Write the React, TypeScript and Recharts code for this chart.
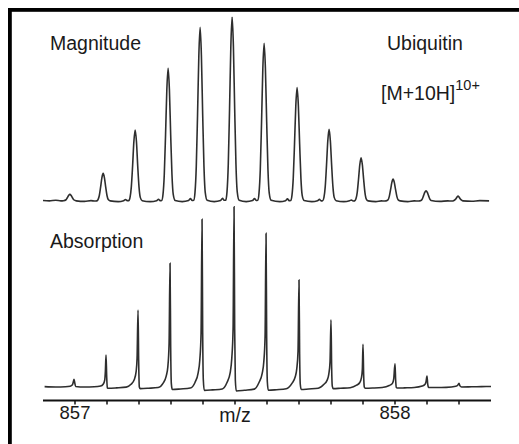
import React from 'react';
import { LineChart, Line, XAxis, YAxis } from 'recharts';

// m/z, relative intensity (tallest isotope = 100)
const magnitudeTrace: [number, number][] = [
  [856.9, 0.3], [856.92, 0.1], [856.94, 0.4], [856.956, 0.1],
  [856.964, 0.2], [856.972, 0.7], [856.976, 1.8], [856.98, 3.0], [856.984, 3.6], [856.988, 3.0], [856.992, 1.8], [856.996, 0.7], [857.004, 0.1],
  [857.03, -0.2], [857.05, 0.2], [857.062, 0.0],
  [857.068, 0.1], [857.072, 0.8], [857.076, 3], [857.08, 7.5], [857.084, 12.6], [857.088, 15], [857.092, 12.6], [857.096, 7.5], [857.1, 3], [857.104, 0.8], [857.11, 0.1],
  [857.135, -0.3], [857.152, 0.2], [857.158, 0.8], [857.163, 0.2],
  [857.168, 0.2], [857.172, 2], [857.176, 7.7], [857.18, 19], [857.184, 32.3], [857.188, 38.5], [857.192, 32.3], [857.196, 19], [857.2, 7.7], [857.204, 2], [857.21, 0.2],
  [857.235, -0.3], [857.255, 0.2], [857.261, 1.0], [857.266, 0.2],
  [857.271, 0.3], [857.275, 3.6], [857.279, 14.4], [857.283, 36], [857.287, 60.5], [857.291, 72], [857.295, 60.5], [857.299, 36], [857.303, 14.4], [857.307, 3.6], [857.313, 0.3],
  [857.335, -0.3], [857.355, 0.3], [857.361, 1.3], [857.366, 0.3],
  [857.371, 0.4], [857.375, 4.7], [857.379, 18.8], [857.383, 47], [857.387, 79], [857.391, 94.2], [857.395, 79], [857.399, 47], [857.403, 18.8], [857.407, 4.7], [857.413, 0.4],
  [857.435, -0.3], [857.455, 0.3], [857.461, 1.5], [857.466, 0.4],
  [857.471, 0.4], [857.475, 5], [857.479, 20], [857.483, 50], [857.487, 84], [857.491, 100], [857.495, 84], [857.499, 50], [857.503, 20], [857.507, 5], [857.513, 0.4],
  [857.535, -0.3], [857.555, 0.3], [857.561, 1.4], [857.566, 0.3],
  [857.571, 0.4], [857.575, 4.3], [857.579, 17], [857.583, 43], [857.587, 72], [857.591, 85.6], [857.595, 72], [857.599, 43], [857.603, 17], [857.607, 4.3], [857.613, 0.4],
  [857.64, -0.3], [857.658, 0.2], [857.664, 1.2], [857.669, 0.2],
  [857.674, 0.3], [857.678, 3.1], [857.682, 12.3], [857.686, 31], [857.69, 51.7], [857.694, 61.5], [857.698, 51.7], [857.702, 31], [857.706, 12.3], [857.71, 3.1], [857.716, 0.3],
  [857.74, -0.3], [857.758, 0.2], [857.764, 0.9], [857.769, 0.1],
  [857.774, 0.2], [857.778, 2], [857.782, 7.8], [857.786, 19.5], [857.79, 32.7], [857.794, 38.9], [857.798, 32.7], [857.802, 19.5], [857.806, 7.8], [857.81, 2], [857.816, 0.2],
  [857.84, -0.3], [857.858, 0.2], [857.864, 0.6], [857.869, 0.0],
  [857.874, 0.1], [857.878, 1.2], [857.882, 4.7], [857.886, 11.8], [857.89, 19.7], [857.894, 23.5], [857.898, 19.7], [857.902, 11.8], [857.906, 4.7], [857.91, 1.2], [857.916, 0.1],
  [857.94, -0.3], [857.958, 0.1], [857.966, 0.0],
  [857.972, 0.1], [857.978, 0.6], [857.982, 2.4], [857.986, 6], [857.99, 10], [857.994, 11.9], [857.998, 10], [858.002, 6], [858.006, 2.4], [858.01, 0.6], [858.016, 0.1],
  [858.04, -0.3], [858.06, 0.1], [858.074, 0.0],
  [858.081, 0.3], [858.085, 1.1], [858.089, 2.8], [858.093, 4.7], [858.097, 5.6], [858.101, 4.7], [858.105, 2.8], [858.109, 1.1], [858.113, 0.3],
  [858.14, -0.2], [858.165, 0.1], [858.178, 0.0],
  [858.183, 0.2], [858.187, 0.6], [858.191, 1.4], [858.194, 2.2], [858.197, 2.7], [858.2, 2.2], [858.203, 1.4], [858.207, 0.6], [858.212, 0.1],
  [858.24, -0.1], [858.265, 0.2], [858.294, 0.1],
];

const absorptionTrace: [number, number][] = [
  [856.905, 0.2], [856.94, 0.0], [856.97, 0.1], [856.985, 0.4],
  [856.992, 1.2], [856.995, 3], [856.997, 4.3], [856.999, 2.5], [857.002, 0.3],
  [857.03, 0], [857.06, 0.1], [857.08, 0.5],
  [857.088, 1.5], [857.093, 4], [857.095, 9], [857.097, 17.7], [857.099, 6], [857.101, -0.5], [857.104, -0.7],
  [857.13, -0.5], [857.16, -0.1], [857.175, 1.5],
  [857.185, 4], [857.191, 8.5], [857.194, 16], [857.197, 42.7], [857.199, 14], [857.201, 0], [857.204, -0.9],
  [857.23, -0.7], [857.26, -0.3], [857.275, 2],
  [857.285, 6], [857.29, 11], [857.294, 24], [857.297, 68.6], [857.299, 22], [857.301, 2], [857.304, -1.4],
  [857.33, -1.1], [857.36, -0.6], [857.375, 2.5],
  [857.385, 8], [857.39, 15], [857.394, 30], [857.397, 93], [857.399, 30], [857.401, 4], [857.404, -1.9],
  [857.43, -1.6], [857.46, -1.1], [857.475, 2.5],
  [857.485, 8], [857.49, 16], [857.494, 32], [857.497, 100], [857.499, 32], [857.501, 4], [857.504, -2.2],
  [857.53, -1.8], [857.56, -1.2], [857.575, 2.5],
  [857.585, 7.5], [857.59, 14], [857.594, 28], [857.597, 85.2], [857.599, 27], [857.601, 3], [857.604, -1.8],
  [857.63, -1.5], [857.66, -1], [857.678, 2],
  [857.688, 5.5], [857.693, 10], [857.697, 20], [857.7, 59.3], [857.702, 18], [857.704, 1.5], [857.707, -1.4],
  [857.73, -1.1], [857.76, -0.7], [857.778, 1.5],
  [857.788, 3.8], [857.793, 7], [857.797, 14], [857.8, 37.2], [857.802, 11], [857.804, 0.5], [857.807, -0.9],
  [857.83, -0.7], [857.86, -0.4], [857.88, 1],
  [857.89, 2.5], [857.895, 5], [857.898, 10], [857.9, 23.7], [857.902, 7], [857.904, 0], [857.907, -0.7],
  [857.93, -0.6], [857.96, -0.3], [857.982, 0.8],
  [857.992, 2], [857.996, 4.5], [858.0, 12.8], [858.002, 4], [858.004, -0.2], [858.007, -0.6],
  [858.03, -0.5], [858.06, -0.3], [858.085, 0.5],
  [858.094, 1.5], [858.097, 3], [858.1, 6.1], [858.102, 2], [858.105, -0.3],
  [858.13, -0.3], [858.16, -0.2], [858.19, 0.4],
  [858.196, 1], [858.2, 2.1], [858.203, 0.6], [858.208, 0],
  [858.24, 0.1], [858.27, 0.2], [858.3, 0.3],
];

const mzTicks = [857, 857.1, 857.2, 857.3, 857.4, 857.5, 857.6, 857.7, 857.8, 857.9, 858, 858.1, 858.2];
const labelledTicks = [857, 858];

const toPoints = (trace: [number, number][]) => trace.map(([mz, y]) => ({ mz, y }));

const FONT = '"Liberation Sans", Arial, Helvetica, sans-serif';
const INK = '#1a1a1a';
const TRACE = '#2e2e2e';

export default function App() {
  const magnitude = toPoints(magnitudeTrace);
  const absorption = toPoints(absorptionTrace);

  return (
    <div style={{ position: 'absolute', left: 0, top: 0, width: 519, height: 444, background: '#fff', overflow: 'hidden' }}>
      <LineChart width={519} height={444} margin={{ top: 16.7, right: 28, bottom: 13.5, left: 43 }}>
        <XAxis
          type="number"
          dataKey="mz"
          domain={[856.9, 858.3]}
          allowDataOverflow
          ticks={mzTicks}
          interval={0}
          height={30}
          tickSize={4}
          tickMargin={1}
          tickFormatter={(v: number) => (labelledTicks.some(t => Math.abs(t - v) < 1e-6) ? String(v) : '')}
          axisLine={{ stroke: '#111', strokeWidth: 2 }}
          tickLine={{ stroke: '#111', strokeWidth: 1.5 }}
          tick={{ fontSize: 18.5, fill: INK, fontFamily: FONT }}
        />
        {/* two hidden intensity axes stack the traces: magnitude on top, absorption below */}
        <YAxis yAxisId="mag" hide width={0} type="number" domain={[-108.2, 100]} allowDataOverflow />
        <YAxis yAxisId="abs" hide width={0} type="number" domain={[-7.5, 205.4]} allowDataOverflow />
        <Line
          yAxisId="mag"
          data={magnitude}
          dataKey="y"
          type="monotone"
          stroke={TRACE}
          strokeWidth={1.6}
          dot={false}
          isAnimationActive={false}
        />
        <Line
          yAxisId="abs"
          data={absorption}
          dataKey="y"
          type="monotone"
          stroke={TRACE}
          strokeWidth={1.6}
          dot={false}
          isAnimationActive={false}
        />
      </LineChart>

      <svg width={519} height={444} style={{ position: 'absolute', left: 0, top: 0, pointerEvents: 'none' }}>
        <rect x={8} y={8} width={511} height={3.8} fill="#000" />
        <rect x={8} y={8} width={3.8} height={436} fill="#000" />
        <g fontFamily={FONT} fill={INK} fontSize={19.5}>
          <text x={50} y={50}>Magnitude</text>
          <text x={387} y={50}>Ubiquitin</text>
          <text x={381} y={100}>
            [M+10H]
            <tspan fontSize={14.5} dy={-10}>10+</tspan>
          </text>
          <text x={50} y={248}>Absorption</text>
          <text x={235} y={422} textAnchor="middle">m/z</text>
        </g>
      </svg>
    </div>
  );
}
